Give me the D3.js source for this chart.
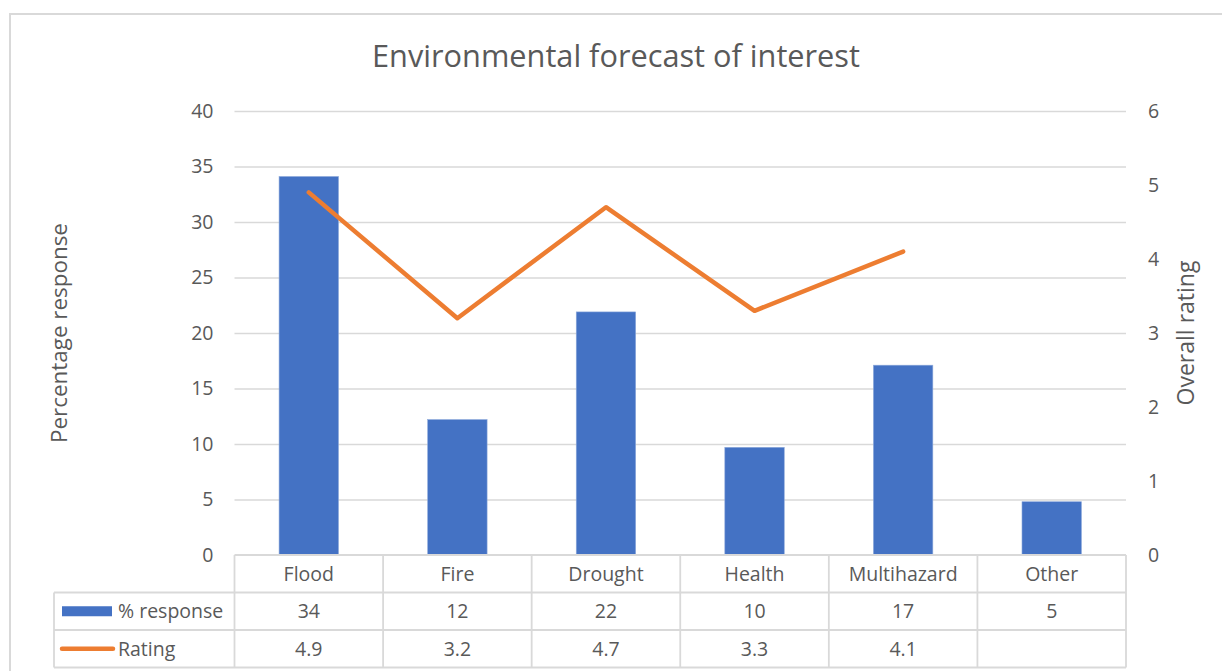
<!DOCTYPE html>
<html>
<head>
<meta charset="utf-8">
<script src="https://cdn.jsdelivr.net/npm/d3@7"></script>
<style>
  html, body { margin: 0; padding: 0; background: #fff; }
  svg { display: block; }
  text { font-family: "Open Sans", Lato, sans-serif; fill: #595959; }
</style>
</head>
<body>
<svg id="chart" width="1222" height="671"></svg>
<script>
// ---- data ----
const categories = ["Flood", "Fire", "Drought", "Health", "Multihazard", "Other"];
const responseValues = [34.1, 12.2, 21.9, 9.7, 17.1, 4.8];
const ratingValues = [4.9, 3.2, 4.7, 3.3, 4.1, null];
const leftTicks = [0, 5, 10, 15, 20, 25, 30, 35, 40];
const rightTicks = [0, 1, 2, 3, 4, 5, 6];
const seriesNames = ["% response", "Rating"];
const titleText = "Environmental forecast of interest";
const leftTitle = "Percentage response";
const rightTitle = "Overall rating";

// ---- layout ----
const W = 1222, H = 671;
const plot = { left: 234.5, right: 1126, top: 111, bottom: 555 };
const tableRows = [555, 592.5, 630, 667.5];
const tableLeft = 54;
const blue = "#4472c4", orange = "#ed7d31", grid = "#d9d9d9";
const FONT = "'Open Sans', Lato, sans-serif";
const small = "19.5px";

const svg = d3.select("#chart");

// fit a text element's font size so that its width matches a target
function fitWidth(sel, target, base) {
  sel.style("font-size", base + "px");
  const w = sel.node().getComputedTextLength();
  if (w > 0) sel.style("font-size", (base * target / w).toFixed(2) + "px");
  return sel;
}

// chart border
svg.append("rect").attr("x", 10).attr("y", 14).attr("width", 1240).attr("height", 700)
  .attr("fill", "none").attr("stroke", grid).attr("stroke-width", 2);

// scales
const x = d3.scaleBand().domain(categories).range([plot.left, plot.right]).paddingInner(0.6).paddingOuter(0.3);
const xCell = d3.scaleBand().domain(categories).range([plot.left, plot.right]).padding(0);
const yL = d3.scaleLinear().domain([0, 40]).range([plot.bottom, plot.top]);
const yR = d3.scaleLinear().domain([0, 6]).range([plot.bottom, plot.top]);

// title
const t = svg.append("text").attr("x", 616).attr("y", 67).attr("text-anchor", "middle").text(titleText);
fitWidth(t, 488, 26);

// gridlines + left axis
const leftAxis = d3.axisLeft(yL).tickValues(leftTicks).tickSize(plot.right - plot.left).tickPadding(21);
const gL = svg.append("g").attr("transform", `translate(${plot.right},0)`).call(leftAxis);
gL.select(".domain").remove();
gL.selectAll(".tick line").attr("stroke", grid).attr("stroke-width", 1.5);
gL.selectAll(".tick").filter(d => d === 0).select("line").remove();
gL.selectAll(".tick text").style("font-size", small).attr("fill", "#595959").style("font-family", FONT);

// right axis
const rightAxis = d3.axisRight(yR).tickValues(rightTicks).tickFormat(d3.format("d")).tickSize(0).tickPadding(22);
const gR = svg.append("g").attr("transform", `translate(${plot.right},0)`).call(rightAxis);
gR.select(".domain").remove();
gR.selectAll(".tick text").style("font-size", small).attr("fill", "#595959").style("font-family", FONT);

// axis titles
const lt = svg.append("text").attr("transform", `translate(67,333) rotate(-90)`).attr("text-anchor", "middle").text(leftTitle);
fitWidth(lt, 220, 18);
const rt = svg.append("text").attr("transform", `translate(1194,333) rotate(-90)`).attr("text-anchor", "middle").text(rightTitle);
fitWidth(rt, 145, 18);

// bars
svg.append("g").selectAll("rect").data(categories).join("rect")
  .attr("x", d => x(d)).attr("width", x.bandwidth())
  .attr("y", (d, i) => yL(responseValues[i]))
  .attr("height", (d, i) => yL(0) - yL(responseValues[i]))
  .attr("fill", blue).attr("stroke", "#8eaadb").attr("stroke-width", 0.6);

// line
const lineData = categories.map((c, i) => ({ c, v: ratingValues[i] })).filter(d => d.v != null);
const line = d3.line().x(d => x(d.c) + x.bandwidth() / 2).y(d => yR(d.v));
svg.append("path").datum(lineData).attr("d", line).attr("fill", "none")
  .attr("stroke", orange).attr("stroke-width", 4.5).attr("stroke-linecap", "round").attr("stroke-linejoin", "round");

// data table
const tg = svg.append("g");
const bstyle = sel => sel.attr("stroke", grid).attr("stroke-width", 1.8);
tg.append("line").attr("x1", plot.left).attr("x2", plot.right).attr("y1", tableRows[0]).attr("y2", tableRows[0]).call(bstyle);
tableRows.slice(1).forEach(yy => {
  tg.append("line").attr("x1", tableLeft).attr("x2", plot.right).attr("y1", yy).attr("y2", yy).call(bstyle);
});
const vx = categories.map(c => xCell(c)).concat([plot.right]);
vx.forEach(xx => {
  tg.append("line").attr("x1", xx).attr("x2", xx).attr("y1", tableRows[0]).attr("y2", tableRows[3]).call(bstyle);
});
tg.append("line").attr("x1", tableLeft).attr("x2", tableLeft).attr("y1", tableRows[1]).attr("y2", tableRows[3]).call(bstyle);

const rowMid = i => (tableRows[i] + tableRows[i + 1]) / 2;
const cellText = (row, fn) => tg.append("g").selectAll("text").data(categories).join("text")
  .attr("x", d => xCell(d) + xCell.bandwidth() / 2).attr("y", rowMid(row))
  .attr("dy", "0.36em").attr("text-anchor", "middle").style("font-size", small).text(fn);
cellText(0, d => d);
cellText(1, (d, i) => d3.format(".0f")(responseValues[i]));
cellText(2, (d, i) => ratingValues[i] == null ? "" : d3.format(".1f")(ratingValues[i]));

// legend keys
tg.append("rect").attr("x", 62).attr("y", rowMid(1) - 5).attr("width", 50).attr("height", 10).attr("fill", blue);
tg.append("text").attr("x", 118).attr("y", rowMid(1)).attr("dy", "0.36em").style("font-size", small).text(seriesNames[0]);
tg.append("line").attr("x1", 62).attr("x2", 113).attr("y1", rowMid(2)).attr("y2", rowMid(2))
  .attr("stroke", orange).attr("stroke-width", 4.5).attr("stroke-linecap", "round");
tg.append("text").attr("x", 118).attr("y", rowMid(2)).attr("dy", "0.36em").style("font-size", small).text(seriesNames[1]);
</script>
</body>
</html>
